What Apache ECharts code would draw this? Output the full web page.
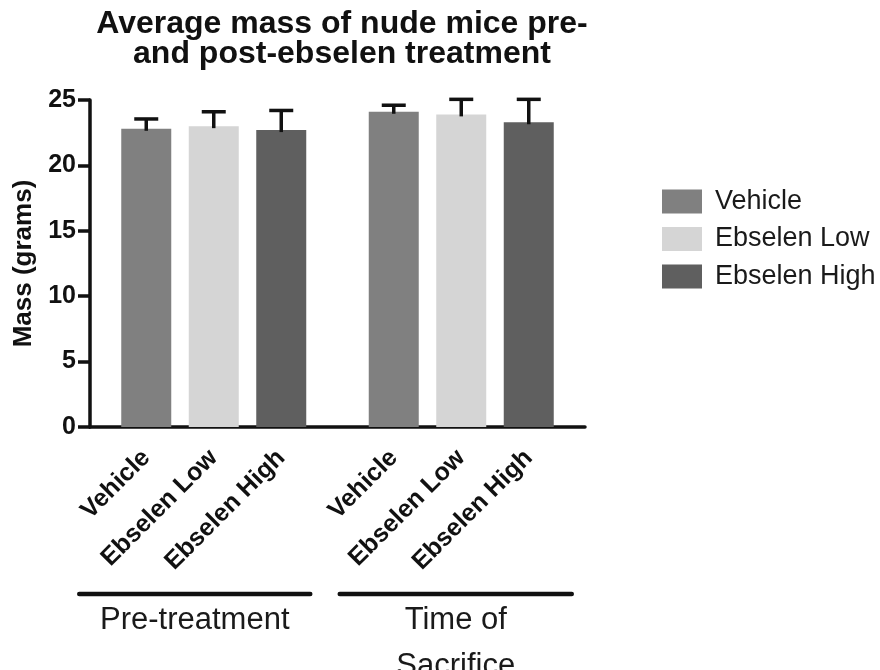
<!DOCTYPE html>
<html>
<head>
<meta charset="utf-8">
<style>
  html, body { margin: 0; padding: 0; background: #ffffff; }
  #chart { width: 880px; height: 670px; }
</style>
<script src="https://cdn.jsdelivr.net/npm/echarts@6/dist/echarts.min.js"></script>
</head>
<body>
<div id="chart"></div>
<script>
// Treatment arms (one bar series each) and the two time points
const treatments = ['Vehicle', 'Ebselen Low', 'Ebselen High'];
const timepoints = ['Pre-treatment', 'Time of\nSacrifice'];

// Mean mass (g) per treatment, [pre-treatment, time of sacrifice]
const vehicleMean = [22.8, 24.1];
const lowMean = [23.0, 23.9];
const highMean = [22.7, 23.3];

// Error (g) above each mean
const vehicleErr = [0.75, 0.5];
const lowErr = [1.1, 1.15];
const highErr = [1.5, 1.75];

const yTicks = [0, 5, 10, 15, 20, 25];

const barColors = ['#808080', '#d5d5d5', '#5f5f5f'];
const FONT = "'Liberation Sans', Arial, Helvetica, sans-serif";

// Slot layout of the category axis: lead-in, spacing inside a group,
// spacing between groups, trailing slots.
const LEAD = 2, STEP = 3, GROUP_STEP = 5, TRAIL = 2;
// Bracket overhang (px) left of the first bar and right of the last bar, per group
const BRACKET_PAD = [[67, 29], [54, 43]];

const slotOf = [];          // slotOf[g][t]
let s = LEAD;
timepoints.forEach((_, g) => {
  slotOf.push([]);
  treatments.forEach((_, t) => {
    slotOf[g].push(s);
    s += (t < treatments.length - 1) ? STEP : GROUP_STEP;
  });
});
const lastSlot = slotOf[timepoints.length - 1][treatments.length - 1];
const slotCount = lastSlot + 1 + TRAIL;

const slotLabels = new Array(slotCount).fill('');
slotOf.forEach(row => row.forEach((idx, t) => { slotLabels[idx] = treatments[t]; }));

const means = [vehicleMean, lowMean, highMean];
const errs = [vehicleErr, lowErr, highErr];

const barSeries = treatments.map((name, t) => {
  const data = new Array(slotCount).fill('-');
  timepoints.forEach((_, g) => { data[slotOf[g][t]] = means[t][g]; });
  return {
    name: name,
    type: 'bar',
    data: data,
    barWidth: 50,
    barGap: '-100%',
    itemStyle: { color: barColors[t] },
    z: 2
  };
});

const errData = [];
treatments.forEach((_, t) => {
  timepoints.forEach((_, g) => {
    errData.push([slotOf[g][t], means[t][g], errs[t][g]]);
  });
});

const errorSeries = {
  name: 'error',
  type: 'custom',
  data: errData,
  encode: { x: 0, y: 1 },
  z: 5,
  silent: true,
  renderItem: function (params, api) {
    const x = api.value(0), m = api.value(1), e = api.value(2);
    const base = api.coord([x, m]);
    const top = api.coord([x, m + e]);
    const half = 12;
    const style = { stroke: '#111', lineWidth: 3.5, fill: null };
    return {
      type: 'group',
      children: [
        { type: 'line', shape: { x1: base[0], y1: base[1] + 2, x2: top[0], y2: top[1] }, style: style },
        { type: 'line', shape: { x1: top[0] - half, y1: top[1], x2: top[0] + half, y2: top[1] }, style: style }
      ]
    };
  }
};

const chart = echarts.init(document.getElementById('chart'), null, { renderer: 'canvas' });

const option = {
  animation: false,
  backgroundColor: '#ffffff',
  textStyle: { fontFamily: FONT },
  title: {
    text: 'Average mass of nude mice pre-\nand post-ebselen treatment',
    left: 337,
    top: 4,
    textAlign: 'center',
    textStyle: { fontFamily: FONT, fontSize: 32, fontWeight: 'bold', color: '#111', lineHeight: 30 }
  },
  legend: {
    data: treatments,
    orient: 'vertical',
    left: 657,
    top: 183,
    itemWidth: 40,
    itemHeight: 24,
    itemGap: 10.5,
    icon: 'rect',
    textStyle: { fontFamily: FONT, fontSize: 27, color: '#1a1a1a', padding: [0, 0, 0, 8] }
  },
  grid: { left: 90, top: 100, width: 495, height: 327, containLabel: false },
  xAxis: {
    type: 'category',
    data: slotLabels,
    boundaryGap: true,
    axisLine: { lineStyle: { color: '#111', width: 3.5 } },
    axisTick: {
      alignWithLabel: true,
      length: 12,
      lineStyle: { color: '#111', width: 3.5 },
      interval: (i, v) => v !== ''
    },
    axisLabel: {
      interval: (i, v) => v !== '',
      rotate: 45,
      margin: 27,
      fontFamily: FONT,
      fontSize: 25,
      fontWeight: 'bold',
      color: '#111'
    },
    splitLine: { show: false }
  },
  yAxis: {
    type: 'value',
    min: yTicks[0],
    max: yTicks[yTicks.length - 1],
    interval: yTicks[1] - yTicks[0],
    name: 'Mass (grams)',
    nameLocation: 'middle',
    nameGap: 50,
    nameTextStyle: { fontFamily: FONT, fontSize: 26, fontWeight: 'bold', color: '#111' },
    axisLine: { show: true, lineStyle: { color: '#111', width: 3.5 } },
    axisTick: { show: true, length: 12, lineStyle: { color: '#111', width: 3.5 } },
    axisLabel: { margin: 14, fontFamily: FONT, fontSize: 25, fontWeight: 'bold', color: '#111' },
    splitLine: { show: false }
  },
  series: barSeries.concat([errorSeries])
};

chart.setOption(option);

// Group brackets and their captions under the rotated category labels
const bracketY = 594;
const graphics = [];
timepoints.forEach((label, g) => {
  const first = chart.convertToPixel({ xAxisIndex: 0 }, slotOf[g][0]);
  const last = chart.convertToPixel({ xAxisIndex: 0 }, slotOf[g][treatments.length - 1]);
  const x0 = first - BRACKET_PAD[g][0];
  const x1 = last + BRACKET_PAD[g][1];
  graphics.push({
    type: 'line',
    shape: { x1: x0, y1: bracketY, x2: x1, y2: bracketY },
    style: { stroke: '#111', lineWidth: 4.5, lineCap: 'round' }
  });
  graphics.push({
    type: 'text',
    x: (x0 + x1) / 2,
    y: bracketY + 3,
    style: {
      text: label,
      fill: '#1a1a1a',
      font: '31px ' + FONT,
      align: 'center',
      verticalAlign: 'top',
      lineHeight: 46
    }
  });
});
chart.setOption({ graphic: graphics });
</script>
</body>
</html>
